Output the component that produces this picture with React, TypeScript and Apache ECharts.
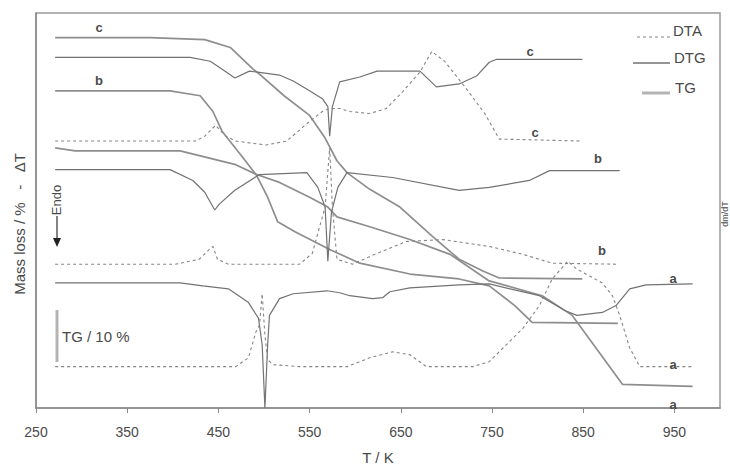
import React, { useEffect, useRef } from "react";
import * as echarts from "echarts";

const xTicks = [250, 350, 450, 550, 650, 750, 850, 950];

// Sample c  [T / K, signal (arbitrary units)]
const tgC = [[271,376],[375,376],[435,374],[463,366],[488,344],[495,339],[522,317],[550,297],[567,274],[580,251],[591,239],[616,222],[649,204],[685,174],[714,151],[740,139],[758,132],[849,131]];
const dtgC = [[271,356],[419,356],[441,352],[457,342],[468,335],[484,342],[517,338],[532,332],[550,322],[564,314],[570,306],[572,276],[575,306],[583,331],[605,336],[624,342],[671,342],[689,326],[714,329],[733,337],[747,351],[755,354],[849,354]];
const dtaC = [[271,271],[425,271],[435,276],[447,287],[458,276],[469,271],[502,267],[525,271],[550,291],[564,301],[572,304],[583,304],[594,301],[616,299],[634,304],[652,321],[671,341],[684,362],[698,352],[722,324],[742,299],[758,273],[849,271]];

// Sample b
const tgB = [[271,322],[397,322],[430,317],[444,301],[454,281],[477,254],[492,236],[504,214],[515,189],[534,179],[572,161],[605,147],[660,136],[714,131],[747,124],[775,104],[794,87],[888,86]];
const dtgB = [[271,242],[397,242],[422,231],[435,219],[446,201],[451,207],[468,221],[495,237],[547,239],[559,224],[567,204],[570,149],[574,199],[581,224],[591,239],[641,234],[714,221],[747,224],[791,231],[813,241],[890,241]];
const dtaB = [[271,146],[403,146],[429,151],[440,161],[444,164],[449,151],[461,146],[539,146],[553,157],[561,184],[567,204],[572,264],[575,204],[580,151],[597,146],[624,157],[656,169],[696,171],[747,164],[784,156],[816,147],[886,146]];

// Sample a
const tgA = [[271,264],[293,261],[408,261],[469,247],[492,237],[517,229],[550,214],[570,204],[580,194],[616,184],[660,171],[704,156],[747,129],[805,114],[838,94],[893,24],[970,22]];
const dtgA = [[271,127],[408,127],[433,124],[461,121],[483,107],[494,91],[498,64],[501,0],[504,64],[506,94],[517,111],[532,116],[569,119],[583,117],[594,114],[619,111],[630,112],[638,118],[660,122],[714,125],[747,126],[802,114],[830,99],[843,94],[871,97],[886,104],[901,121],[919,125],[970,126]];
const dtaA = [[271,42],[469,42],[483,51],[491,77],[495,84],[498,116],[501,74],[504,49],[510,44],[539,42],[591,42],[616,51],[641,57],[660,54],[678,42],[729,42],[747,47],[784,81],[802,104],[816,131],[833,149],[843,141],[857,134],[871,127],[882,114],[890,94],[901,61],[912,42],[970,42]];

const FONT = "Liberation Sans, Arial, sans-serif";
const TG_COLOR = "#8e8e8e";
const DTG_COLOR = "#727272";
const DTA_COLOR = "#858585";
const TEXT = "#4a4a4a";

function mk(name: string, data: number[][], kind: "TG" | "DTG" | "DTA") {
  const style =
    kind === "TG"
      ? { color: TG_COLOR, width: 1.7, type: "solid" as const }
      : kind === "DTG"
      ? { color: DTG_COLOR, width: 1.2, type: "solid" as const }
      : { color: DTA_COLOR, width: 1.1, type: [3, 3] as any };
  return {
    name,
    type: "line",
    data,
    showSymbol: false,
    symbol: "none",
    lineStyle: style,
    itemStyle: { color: style.color },
    z: kind === "TG" ? 2 : 3,
  };
}

function txt(text: string, x: number, y: number, size = 15, weight = "normal", extra: any = {}) {
  return {
    type: "text",
    x,
    y,
    ...extra,
    style: {
      text,
      fill: TEXT,
      font: `${weight} ${size}px ${FONT}`,
      align: extra.align || "center",
      verticalAlign: "middle",
    },
    z: 10,
  };
}

function seg(x1: number, y1: number, x2: number, y2: number, stroke: string, lineWidth: number, lineDash?: number[]) {
  return {
    type: "line",
    shape: { x1, y1, x2, y2 },
    style: { stroke, lineWidth, lineDash },
    z: 10,
  };
}

export default function App() {
  const ref = useRef<HTMLDivElement>(null);
  useEffect(() => {
    if (!ref.current) return;
    const chart = echarts.init(ref.current, null, { renderer: "svg" });
    chart.setOption({
      animation: false,
      backgroundColor: "#ffffff",
      grid: {
        left: 36,
        right: 10,
        top: 13,
        bottom: 56,
        show: true,
        borderColor: "#9a9a9a",
        borderWidth: 1.5,
      },
      xAxis: {
        type: "value",
        min: 250,
        max: 1000,
        name: "T / K",
        nameLocation: "middle",
        nameGap: 42,
        nameTextStyle: { color: TEXT, fontSize: 15, fontFamily: FONT },
        axisLine: { show: true, lineStyle: { color: "#8a8a8a", width: 1.5 } },
        axisTick: { show: true, length: 5, customValues: xTicks, lineStyle: { color: "#8a8a8a" } },
        axisLabel: { customValues: xTicks, margin: 17, color: TEXT, fontSize: 14, fontFamily: FONT },
        splitLine: { show: false },
      },
      yAxis: {
        type: "value",
        min: 0,
        max: 401,
        axisLine: { show: true, lineStyle: { color: "#8a8a8a", width: 1.5 } },
        axisTick: { show: false },
        axisLabel: { show: false },
        splitLine: { show: false },
      },
      series: [
        mk("TG c", tgC, "TG"),
        mk("DTG c", dtgC, "DTG"),
        mk("DTA c", dtaC, "DTA"),
        mk("TG b", tgB, "TG"),
        mk("DTG b", dtgB, "DTG"),
        mk("DTA b", dtaB, "DTA"),
        mk("TG a", tgA, "TG"),
        mk("DTG a", dtgA, "DTG"),
        mk("DTA a", dtaA, "DTA"),
      ],
      graphic: [
        // legend
        seg(637, 37, 670, 37, DTA_COLOR, 1.2, [3, 3]),
        txt("DTA", 673, 30, 15, "normal", { align: "left" }),
        seg(633, 63, 670, 63, DTG_COLOR, 1.3),
        txt("DTG", 674, 57, 15, "normal", { align: "left" }),
        seg(642, 93, 670, 93, "#b4b4b4", 3),
        txt("TG", 675, 87, 15, "normal", { align: "left" }),
        // curve letters
        txt("c", 99, 27, 13, "bold"),
        txt("b", 99, 80, 13, "bold"),
        txt("c", 530, 51, 13, "bold"),
        txt("c", 535, 132, 13, "bold"),
        txt("b", 598, 158, 13, "bold"),
        txt("b", 602, 250, 13, "bold"),
        txt("a", 673, 278, 13, "bold"),
        txt("a", 673, 364, 13, "bold"),
        txt("a", 673, 404, 13, "bold"),
        // TG scale bar
        seg(57, 310, 57, 362, "#b4b4b4", 3),
        txt("TG / 10 %", 62, 336, 15, "normal", { align: "left" }),
        // Endo arrow
        txt("Endo", 56, 200, 13, "normal", { rotation: Math.PI / 2 }),
        seg(57, 216, 57, 239, "#333", 1.2),
        {
          type: "polygon",
          shape: { points: [[53, 238], [61, 238], [57, 247]] },
          style: { fill: "#222" },
          z: 10,
        },
        // axis titles
        txt("Mass loss / %   -   \u0394T", 19, 224, 15, "normal", { rotation: Math.PI / 2 }),
        txt("dm/dT", 725, 214, 9, "normal", { rotation: Math.PI / 2 }),
      ],
    });
    return () => chart.dispose();
  }, []);
  return (
    <div
      ref={ref}
      style={{ position: "absolute", left: 0, top: 0, width: 730, height: 470, background: "#fff" }}
    />
  );
}
